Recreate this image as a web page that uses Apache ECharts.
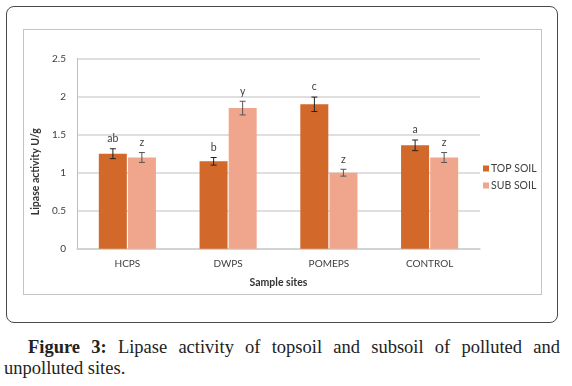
<!DOCTYPE html>
<html>
<head>
<meta charset="utf-8">
<script src="https://cdn.jsdelivr.net/npm/echarts@6/dist/echarts.min.js"></script>
<style>
  body { margin: 0; background: #fff; width: 572px; height: 386px; position: relative; overflow: hidden; }
  #frame { position: absolute; left: 6px; top: 6px; width: 552px; height: 317px; border: 1px solid #4a4a4a; border-radius: 8px; box-sizing: border-box; }
  #inner { position: absolute; left: 23px; top: 29px; width: 519px; height: 266px; border: 1px solid #c4c4c4; box-sizing: border-box; }
  #chart { position: absolute; left: 0; top: 0; width: 572px; height: 330px; }
  #caption { position: absolute; left: 4px; top: 337px; width: 556px; font-family: 'Liberation Serif', serif; font-size: 18.5px; line-height: 21px; color: #222; }
  #caption .l1 { text-indent: 24px; text-align: justify; text-align-last: justify; }
</style>
</head>
<body>
<div id="frame"></div>
<div id="inner"></div>
<div id="chart"></div>
<div id="caption">
  <div class="l1"><b>Figure 3:</b> Lipase activity of topsoil and subsoil of polluted and</div>
  <div>unpolluted sites.</div>
</div>
<script>
  // 数据
  const sites = ['HCPS', 'DWPS', 'POMEPS', 'CONTROL'];
  const topSoil = [1.25, 1.15, 1.9, 1.36];
  const subSoil = [1.2, 1.85, 1.0, 1.2];
  const topErr = [0.065, 0.05, 0.095, 0.07];
  const subErr = [0.065, 0.09, 0.045, 0.065];
  const topLetters = ['ab', 'b', 'c', 'a'];
  const subLetters = ['z', 'y', 'z', 'z'];
  const yTicks = [0, 0.5, 1, 1.5, 2, 2.5];

  const font = 'Lato, "Open Sans", sans-serif';
  const barW = 28;

  // 误差线 + 字母标注
  function errSeries(name, vals, errs, letters, offset, color) {
    return {
      name: name + ' err',
      type: 'custom',
      z: 5,
      data: vals.map((v, i) => [i, v, errs[i]]),
      renderItem: function (params, api) {
        const i = api.value(0);
        const v = api.value(1);
        const e = api.value(2);
        const hi = api.coord([i, v + e]);
        const lo = api.coord([i, v - e]);
        const x = hi[0] + offset;
        const style = { stroke: color, lineWidth: 1 };
        return {
          type: 'group',
          children: [
            { type: 'line', shape: { x1: x, y1: hi[1], x2: x, y2: lo[1] }, style: style },
            { type: 'line', shape: { x1: x - 3, y1: hi[1], x2: x + 3, y2: hi[1] }, style: style },
            { type: 'line', shape: { x1: x - 3, y1: lo[1], x2: x + 3, y2: lo[1] }, style: style },
            {
              type: 'text',
              style: {
                text: letters[params.dataIndex], x: x, y: hi[1] - 10,
                align: 'center', verticalAlign: 'middle',
                fontSize: 10.5, fontFamily: font, fill: '#404040'
              }
            }
          ]
        };
      }
    };
  }

  const chart = echarts.init(document.getElementById('chart'));
  const option = {
    animation: false,
    textStyle: { fontFamily: font },
    grid: { left: 77, top: 58.7, width: 403, height: 190 },
    legend: {
      data: ['TOP SOIL', 'SUB SOIL'],
      orient: 'vertical',
      left: 478, top: 158,
      itemWidth: 6, itemHeight: 6, itemGap: 6,
      icon: 'rect',
      textStyle: { fontSize: 10.5, color: '#404040', fontFamily: font, padding: [0, 0, 0, -3] }
    },
    xAxis: {
      type: 'category',
      data: sites,
      axisTick: { show: false },
      axisLine: { lineStyle: { color: '#d0d0d0', width: 1.5 } },
      axisLabel: { fontSize: 10, color: '#404040', margin: 10 },
      name: 'Sample sites',
      nameLocation: 'middle',
      nameGap: 28,
      nameTextStyle: { fontSize: 10.5, fontWeight: 'bold', color: '#333' }
    },
    yAxis: {
      type: 'value',
      min: yTicks[0], max: yTicks[yTicks.length - 1], interval: 0.5,
      axisLine: { show: true, lineStyle: { color: '#bfbfbf' } },
      axisTick: { show: false },
      axisLabel: { fontSize: 10, color: '#404040', margin: 11 },
      splitLine: { lineStyle: { color: '#d4d4d4', width: 1.5 } },
      name: 'Lipase activity U/g',
      nameLocation: 'middle',
      nameGap: 34,
      nameTextStyle: { fontSize: 10.5, fontWeight: 'bold', color: '#333', padding: [0, 0, 0, -36] }
    },
    series: [
      {
        name: 'TOP SOIL', type: 'bar', data: topSoil, barWidth: barW, barGap: '4%',
        itemStyle: { color: '#D2682A' }
      },
      {
        name: 'SUB SOIL', type: 'bar', data: subSoil, barWidth: barW,
        itemStyle: { color: '#EFA68C' }
      },
      errSeries('TOP SOIL', topSoil, topErr, topLetters, -(barW / 2 + 0.5), '#222'),
      errSeries('SUB SOIL', subSoil, subErr, subLetters, barW / 2 + 0.5, '#555')
    ]
  };
  chart.setOption(option);
</script>
</body>
</html>
